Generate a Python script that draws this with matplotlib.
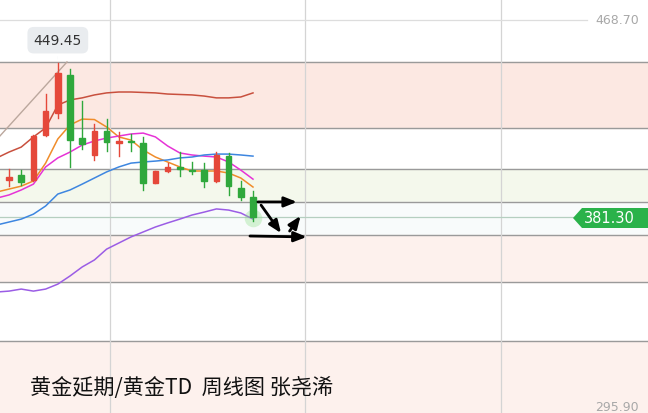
import numpy as np
import matplotlib
matplotlib.use('Agg')
from matplotlib import pyplot as plt
from matplotlib.patches import Rectangle, Polygon

plt.rcParams['font.family'] = ['Noto Sans CJK SC', 'DejaVu Sans']

# weekly candles (open, high, low, close)
opens  = [397.8, 400.0, 397.8, 417.7, 427.5, 444.3, 416.4, 408.9, 419.5, 414.2, 415.1,
          414.2, 396.5, 401.8, 403.6, 402.2, 402.2, 397.4, 408.4, 394.3, 390.3]
highs  = [402.7, 402.2, 417.7, 435.9, 449.45, 447.0, 432.8, 422.6, 424.8, 419.1, 418.2,
          416.9, 401.8, 405.3, 410.2, 405.8, 405.3, 410.2, 409.8, 397.4, 392.9]
lows   = [395.1, 395.6, 397.4, 417.3, 425.3, 403.6, 411.5, 406.7, 410.7, 408.4, 410.7,
          393.4, 396.5, 401.4, 399.6, 400.5, 394.7, 396.9, 391.2, 389.0, 379.6]
closes = [399.1, 396.9, 417.3, 428.4, 445.2, 415.5, 413.8, 419.5, 414.6, 415.1, 414.6,
          396.5, 401.8, 403.6, 402.7, 401.8, 397.4, 408.9, 395.1, 390.3, 381.3]

# moving averages, starting one week before the first candle
ma_idx = np.arange(-1, 21)
ma_brown = [407.6, 410.2, 412.4, 416.9, 420.9, 431.0, 433.3, 434.2, 435.5, 436.4, 436.8,
            436.8, 436.6, 436.4, 435.9, 435.7, 435.5, 435.0, 434.2, 434.2, 434.6, 436.4]
ma_orange = [392.5, 393.8, 395.1, 397.4, 405.3, 416.0, 422.2, 424.8, 424.6, 421.3, 416.9,
             415.5, 411.1, 408.0, 405.8, 403.6, 401.8, 401.8, 401.8, 400.9, 398.7, 394.7]
ma_magenta = [389.8, 391.2, 393.4, 396.0, 403.6, 407.6, 410.2, 413.3, 415.1, 416.4, 417.3,
              418.2, 418.6, 416.9, 412.9, 409.8, 408.9, 408.4, 408.0, 405.8, 402.2, 398.2]
ma_blue = [377.9, 379.2, 380.5, 382.7, 386.3, 391.6, 393.4, 396.0, 398.7, 401.4, 403.6,
           405.3, 405.8, 406.2, 406.7, 407.6, 408.0, 408.9, 409.3, 409.3, 408.9, 408.4]
ma_purple = [348.2, 348.6, 349.5, 348.6, 349.5, 351.7, 355.3, 359.3, 362.4, 367.2, 369.9,
             372.6, 374.8, 377.0, 378.8, 380.5, 382.3, 383.6, 385.0, 384.5, 383.2, 380.5]

levels = [450.1, 420.85, 402.7, 388.1, 373.4, 352.6, 326.5]
trend_x = [-0.75, 4.75]
trend_y = [417.3, 450.1]

# hand-drawn arrows: (x0, y0, x1, y1)
arrows = [(20.4, 388.1, 23.6, 388.1),
          (20.66, 386.7, 22.3, 374.3),
          (23.0, 375.2, 23.9, 381.9),
          (19.75, 373.0, 24.4, 372.6)]

last_price = 381.30
peak = 449.45
y_top, y_bottom = 468.70, 295.90
title = '黄金延期/黄金TD  周线图 张尧浠'

fig = plt.figure(figsize=(6.48, 4.14), dpi=100)
ax = fig.add_axes([0, 0, 1, 1])
ax.set_xlim(-0.74, 52.38)
ax.set_ylim(294.6, 478.0)
ax.axis('off')

# background bands
ax.axhspan(levels[1], levels[0], color='#fce8e2', zorder=0)
ax.axhspan(levels[3], levels[2], color='#f4f8ec', zorder=0)
ax.axhspan(levels[4], levels[3], color='#f8fbfb', zorder=0)
ax.axhspan(levels[5], levels[4], color='#fdf1ed', zorder=0)
ax.axhspan(294.6, levels[6], color='#fdf1ed', zorder=0)
for lv in levels:
    ax.axhline(lv, color='#9a9a9a', lw=1.0, zorder=1)
for xv in [8.28, 24.3, 40.3]:
    ax.axvline(xv, color='#d4d4d4', lw=0.9, zorder=1)
ax.plot([-0.74, 47.4], [y_top, y_top], color='#dddddd', lw=0.9, zorder=1)
ax.axhline(last_price, color='#b5cfc0', lw=0.9, zorder=1)

ax.plot(trend_x, trend_y, color='#bba79d', lw=1.0, zorder=2)

# moving averages
ax.plot(ma_idx, ma_brown, color='#c8503e', lw=1.1, zorder=3)
ax.plot(ma_idx, ma_orange, color='#f08c2a', lw=1.1, zorder=3)
ax.plot(ma_idx, ma_magenta, color='#e633d6', lw=1.1, zorder=3)
ax.plot(ma_idx, ma_blue, color='#3d86e0', lw=1.1, zorder=3)
ax.plot(ma_idx, ma_purple, color='#9b5de5', lw=1.1, zorder=3)

# candles
w = 0.47
for i in range(len(opens)):
    o, h, l, c = opens[i], highs[i], lows[i], closes[i]
    col = '#e5483a' if c > o else '#2fa83c'
    ax.plot([i, i], [l, h], color=col, lw=1.0, zorder=4)
    ax.add_patch(Rectangle((i - w / 2, min(o, c)), w, max(abs(c - o), 0.4),
                           color=col, zorder=5))

# glow under last candle
ax.scatter([20], [381.0], s=160, color='#8fe08a', alpha=0.35, lw=0, zorder=3)

for x0, y0, x1, y1 in arrows:
    ax.annotate('', xy=(x1, y1), xytext=(x0, y0),
                arrowprops=dict(arrowstyle='-|>,head_length=0.75,head_width=0.3',
                                color='black', lw=2.0, shrinkA=0, shrinkB=0),
                zorder=6)

# peak label
ax.annotate(f'{peak:.2f}', xy=(4, peak + 0.6), xytext=(4, peak + 10.3),
            ha='center', va='center', fontsize=10, color='#333333',
            family='DejaVu Sans',
            bbox=dict(boxstyle='round,pad=0.45', fc='#e9ecef', ec='none'),
            arrowprops=dict(arrowstyle='-', color='#e9ecef', lw=0.1), zorder=7)

# right-side labels
ytr = ax.get_yaxis_transform()
ax.text(0.952, y_top, f'{y_top:.2f}', transform=ytr,
        ha='center', va='center', fontsize=9, color='#a8a8a8', family='DejaVu Sans')
ax.text(0.952, 294.8, f'{y_bottom:.2f}', transform=ytr,
        ha='center', va='bottom', fontsize=9, color='#a8a8a8', family='DejaVu Sans')

# price tag
tag = Polygon([(573 / 648, 1 - 219 / 414), (582 / 648, 1 - 209 / 414),
               (1.0, 1 - 209 / 414), (1.0, 1 - 229 / 414), (582 / 648, 1 - 229 / 414)],
              closed=True, transform=ax.transAxes, fc='#2ab24a', ec='none', zorder=7)
ax.add_patch(tag)
ax.text(0.941, last_price, f'{last_price:.2f}', transform=ytr,
        ha='center', va='center', fontsize=10.5, color='white', family='DejaVu Sans',
        zorder=8)

ax.text(0.046, 0.063, title, transform=ax.transAxes, ha='left', va='center',
        fontsize=15.2, color='#111111', zorder=7)

fig.savefig('out.png', dpi=100)
